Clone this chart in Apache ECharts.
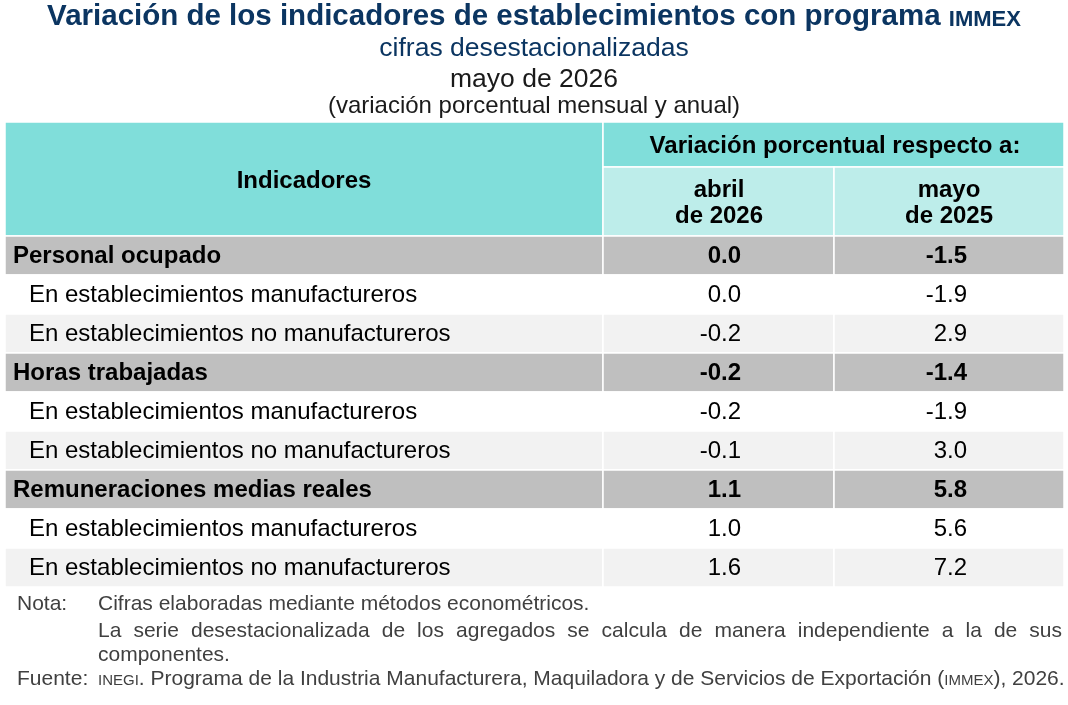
<!DOCTYPE html>
<html>
<head>
<meta charset="utf-8">
<script src="https://cdn.jsdelivr.net/npm/echarts@6/dist/echarts.min.js"></script>
<style>
  html, body { margin: 0; padding: 0; background: #fff; }
  #chart { width: 1068px; height: 705px; }
</style>
</head>
<body>
<div id="chart"></div>
<script>
// filas de la tabla
const indicadores = [
    'Personal ocupado',
    'En establecimientos manufactureros',
    'En establecimientos no manufactureros',
    'Horas trabajadas',
    'En establecimientos manufactureros',
    'En establecimientos no manufactureros',
    'Remuneraciones medias reales',
    'En establecimientos manufactureros',
    'En establecimientos no manufactureros'
];
// 0 = total (negrita), 1 = componente
const nivel = [0, 1, 1, 0, 1, 1, 0, 1, 1];
// variación respecto a abril de 2026
const varAbril2026 = [0.0, 0.0, -0.2, -0.2, -0.2, -0.1, 1.1, 1.0, 1.6];
// variación respecto a mayo de 2025
const varMayo2025 = [-1.5, -1.9, 2.9, -1.4, -1.9, 3.0, 5.8, 5.6, 7.2];
const encabezados = ['abril\nde 2026', 'mayo\nde 2025'];

const FONT = '"Liberation Sans", Arial, sans-serif';
const NAVY = '#0b3561';
const GRIS = '#404040';
// bordes de columnas en unidades del eje x (0..1059)
const colEdges = [0, 598, 829, 1059];
// desplazamiento del borde derecho de las cifras respecto al centro de la columna
const valOffset = [22.5, 18];

const myChart = echarts.init(document.getElementById('chart'), null, { renderer: 'canvas' });

// texto justificado de la nota
const measureCtx = document.createElement('canvas').getContext('2d');
const justifyLine = (text, x0, x1, y, fontSize) => {
    measureCtx.font = fontSize + 'px ' + FONT;
    const words = text.split(' ');
    const widths = words.map(w => measureCtx.measureText(w).width);
    const total = widths.reduce((a, b) => a + b, 0);
    const gap = (x1 - x0 - total) / (words.length - 1);
    let x = x0;
    return words.map((w, i) => {
        const el = {
            type: 'text', left: x, top: y,
            style: { text: w, font: fontSize + 'px ' + FONT, fill: GRIS }
        };
        x += widths[i] + gap;
        return el;
    });
};

const rowFill = (i) => {
    if (nivel[i] === 0) return '#bfbfbf';
    return (i % 3 === 1) ? '#ffffff' : '#f2f2f2';
};

const renderRow = (params, api) => {
    const i = api.value(1);
    const center = api.coord([0, i]);
    const h = api.size([0, 1])[1];
    const xs = colEdges.map(e => api.coord([e, i])[0]);
    const top = center[1] - h / 2;
    const bold = nivel[i] === 0;
    const weight = bold ? 'bold ' : '';
    const children = [];
    for (let c = 0; c < 3; c++) {
        children.push({
            type: 'rect',
            shape: { x: xs[c], y: top, width: xs[c + 1] - xs[c], height: h },
            style: { fill: rowFill(i), stroke: '#ffffff', lineWidth: 1.5 }
        });
    }
    children.push({
        type: 'text',
        style: {
            x: xs[0] + (bold ? 8 : 24), y: center[1] + 1,
            text: indicadores[i], font: weight + '24px ' + FONT,
            fill: '#000', align: 'left', verticalAlign: 'middle'
        }
    });
    [varAbril2026[i], varMayo2025[i]].forEach((v, k) => {
        const mid = (xs[k + 1] + xs[k + 2]) / 2;
        children.push({
            type: 'text',
            style: {
                x: mid + valOffset[k], y: center[1] + 1,
                text: v.toFixed(1), font: weight + '24px ' + FONT,
                fill: '#000', align: 'right', verticalAlign: 'middle'
            }
        });
    });
    return { type: 'group', children: children };
};

const option = {
    animation: false,
    grid: { left: 5, right: 4, top: 236, height: 351 },
    xAxis: { type: 'value', min: 0, max: 1059, show: false },
    yAxis: { type: 'category', data: indicadores, inverse: true, show: false },
    series: [{
        type: 'custom',
        renderItem: renderRow,
        data: indicadores.map((_, i) => [0, i]),
        silent: true
    }],
    graphic: [
        // títulos
        {
            type: 'text', left: 'center', top: 2,
            style: {
                text: '{a|Variación de los indicadores de establecimientos con programa }{b|IMMEX}',
                rich: {
                    a: { font: 'bold 29.5px ' + FONT, fill: NAVY },
                    b: { font: 'bold 22px ' + FONT, fill: NAVY, padding: [6, 0, 0, 0] }
                }
            }
        },
        { type: 'text', left: 'center', top: 35,
          style: { text: 'cifras desestacionalizadas', font: '26.5px ' + FONT, fill: NAVY } },
        { type: 'text', left: 'center', top: 66,
          style: { text: 'mayo de 2026', font: '26.5px ' + FONT, fill: '#1a1a1a' } },
        { type: 'text', left: 'center', top: 94,
          style: { text: '(variación porcentual mensual y anual)', font: '24px ' + FONT, fill: '#1a1a1a' } },
        // encabezado
        { type: 'rect', shape: { x: 5, y: 122, width: 598, height: 114 },
          style: { fill: '#80deda', stroke: '#fff', lineWidth: 1.5 } },
        { type: 'rect', shape: { x: 603, y: 122, width: 461, height: 45 },
          style: { fill: '#80deda', stroke: '#fff', lineWidth: 1.5 } },
        { type: 'rect', shape: { x: 603, y: 167, width: 231, height: 69 },
          style: { fill: '#bdedea', stroke: '#fff', lineWidth: 1.5 } },
        { type: 'rect', shape: { x: 834, y: 167, width: 230, height: 69 },
          style: { fill: '#bdedea', stroke: '#fff', lineWidth: 1.5 } },
        { type: 'text', style: { x: 304, y: 181, text: 'Indicadores', font: 'bold 24px ' + FONT,
          fill: '#000', align: 'center', verticalAlign: 'middle' } },
        { type: 'text', style: { x: 835, y: 146, text: 'Variación porcentual respecto a:', font: 'bold 24px ' + FONT,
          fill: '#000', align: 'center', verticalAlign: 'middle' } },
        { type: 'text', style: { x: 719, y: 203, text: encabezados[0], font: 'bold 24px ' + FONT, lineHeight: 26,
          fill: '#000', align: 'center', verticalAlign: 'middle' } },
        { type: 'text', style: { x: 949, y: 203, text: encabezados[1], font: 'bold 24px ' + FONT, lineHeight: 26,
          fill: '#000', align: 'center', verticalAlign: 'middle' } },
        // notas
        { type: 'text', left: 17, top: 594,
          style: { text: 'Nota:', font: '21px ' + FONT, fill: GRIS } },
        { type: 'text', left: 98, top: 594,
          style: { text: 'Cifras elaboradas mediante métodos econométricos.', font: '21px ' + FONT, fill: GRIS } },
        ...justifyLine('La serie desestacionalizada de los agregados se calcula de manera independiente a la de sus', 98, 1062, 621, 21),
        { type: 'text', left: 98, top: 645,
          style: { text: 'componentes.', font: '21px ' + FONT, fill: GRIS } },
        { type: 'text', left: 17, top: 669,
          style: { text: 'Fuente:', font: '21px ' + FONT, fill: GRIS } },
        { type: 'text', left: 98, top: 669,
          style: {
              text: '{s|INEGI}{a|. Programa de la Industria Manufacturera, Maquiladora y de Servicios de Exportación (}{s|IMMEX}{a|), 2026.}',
              rich: {
                  a: { font: '21px ' + FONT, fill: GRIS },
                  s: { font: '15px ' + FONT, fill: GRIS, padding: [2, 0, 0, 0] }
              }
          } }
    ]
};

myChart.setOption(option);
</script>
</body>
</html>
